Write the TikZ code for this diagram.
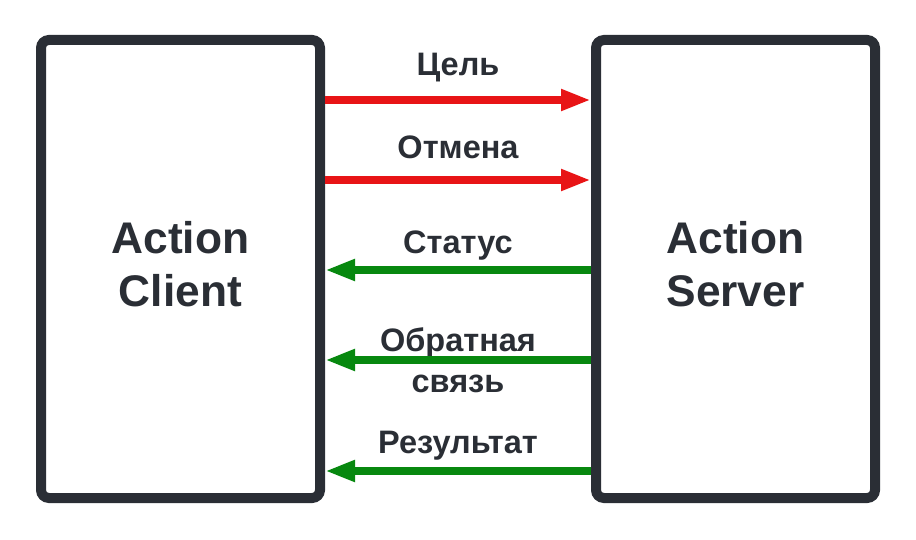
\documentclass[tikz,border=0pt]{standalone}
\usepackage{fontspec}
\setmainfont{Liberation Sans}
\usepackage{tikz}
\usetikzlibrary{arrows.meta,positioning}
\definecolor{boxline}{HTML}{2A2E35}
\definecolor{sendred}{HTML}{E81416}
\definecolor{backgreen}{HTML}{07880F}
\tikzstyle{party} = [rectangle, rounded corners=8pt, line width=10pt, draw=boxline, fill=white, minimum width=279pt, minimum height=458pt, align=center, text=boxline, font=\fontsize{44.3}{53}\selectfont\bfseries]
\tikzstyle{msg} = [align=center, text=boxline, font=\fontsize{32.5}{41}\selectfont\bfseries]
\tikzstyle{request} = [line width=8pt, draw=sendred, -{Triangle[length=30pt,width=20pt]}]
\tikzstyle{reply} = [line width=8pt, draw=backgreen, -{Triangle[length=30pt,width=20pt]}]

\begin{document}
\begin{tikzpicture}[x=1pt,y=-1pt]
    \useasboundingbox (0,0) rectangle (916,540);
    \node (client) [party] at (180.5,269) {\raisebox{5pt}{\begin{tabular}{@{}c@{}}Action\\Client\end{tabular}}};
    \node (server) [party] at (735.5,269) {\raisebox{5pt}{\begin{tabular}{@{}c@{}}Action\\Server\end{tabular}}};

    \node (goal_lbl) [msg] at (458,68) {Цель};
    \node (cancel_lbl) [msg] at (458,147) {Отмена};
    \node (status_lbl) [msg] at (458,246) {Статус};
    \node (feedback_lbl) [msg] at (458,360) {Обратная\\связь};
    \node (result_lbl) [msg] at (458,446) {Результат};

    \draw[request] ([yshift=-65pt]client.north east) -- ([yshift=-65pt]server.north west);
    \draw[request] ([yshift=-145pt]client.north east) -- ([yshift=-145pt]server.north west);

    \draw[reply] ([yshift=-235pt]server.north west) -- ([yshift=-235pt]client.north east);
    \draw[reply] ([yshift=-325pt]server.north west) -- ([yshift=-325pt]client.north east);
    \draw[reply] ([yshift=-436pt]server.north west) -- ([yshift=-436pt]client.north east);
  \end{tikzpicture}
\end{document}
